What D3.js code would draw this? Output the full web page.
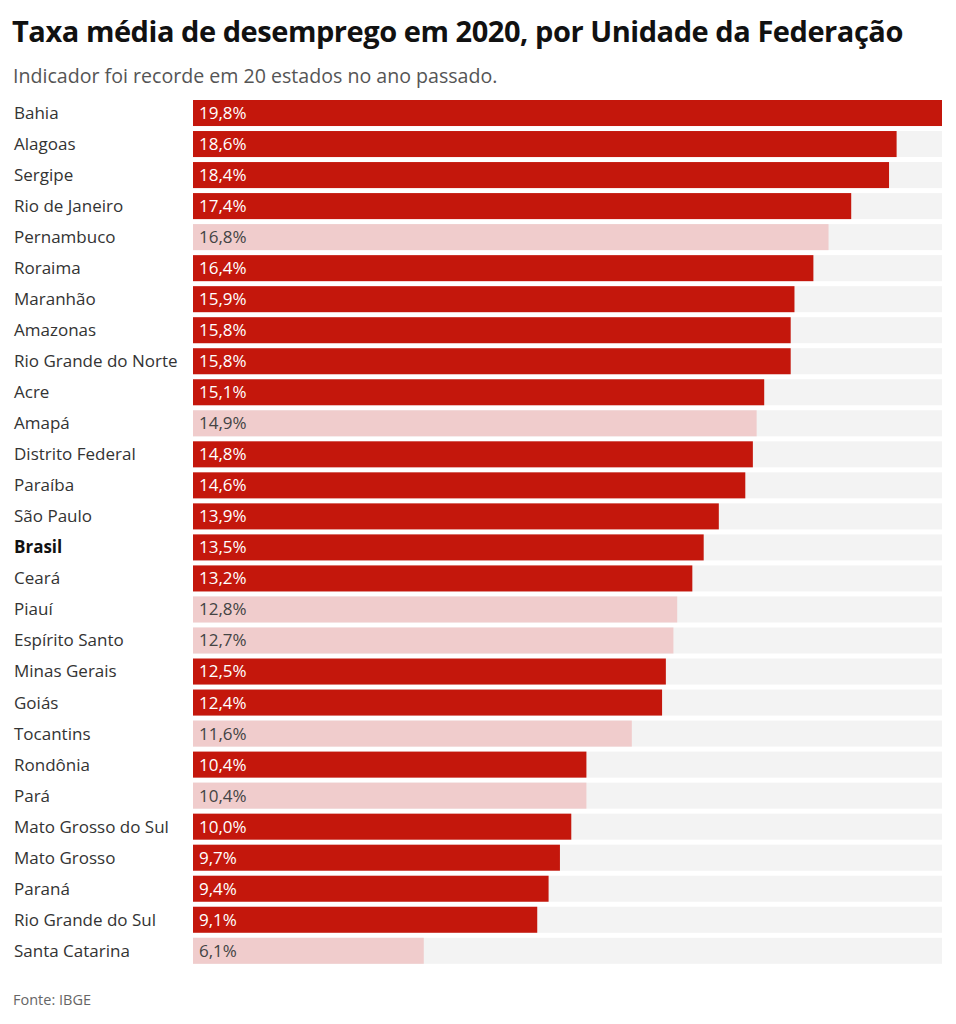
<!DOCTYPE html>
<html>
<head>
<meta charset="utf-8">
<script src="https://cdn.jsdelivr.net/npm/d3@7"></script>
<style>
  body { margin: 0; background: #fff; }
  svg { display: block; font-family: "Open Sans", sans-serif; }
</style>
</head>
<body>
<svg id="chart" width="956" height="1024"></svg>
<script>
// states, ordered as in the chart
const states = ["Bahia", "Alagoas", "Sergipe", "Rio de Janeiro", "Pernambuco", "Roraima",
  "Maranhão", "Amazonas", "Rio Grande do Norte", "Acre", "Amapá", "Distrito Federal",
  "Paraíba", "São Paulo", "Brasil", "Ceará", "Piauí", "Espírito Santo", "Minas Gerais",
  "Goiás", "Tocantins", "Rondônia", "Pará", "Mato Grosso do Sul", "Mato Grosso",
  "Paraná", "Rio Grande do Sul", "Santa Catarina"];
const rates = [19.8, 18.6, 18.4, 17.4, 16.8, 16.4, 15.9, 15.8, 15.8, 15.1, 14.9, 14.8,
  14.6, 13.9, 13.5, 13.2, 12.8, 12.7, 12.5, 12.4, 11.6, 10.4, 10.4, 10.0, 9.7, 9.4, 9.1, 6.1];
// true = record in 2020 (dark red), false = not a record (light)
const records = [true, true, true, true, false, true, true, true, true, true, false, true,
  true, true, true, true, false, false, true, true, false, true, false, true, true,
  true, true, false];

const DARK = "#c4170c";
const LIGHT = "#f0cccc";
const TRACK = "#f3f3f3";

const svg = d3.select("#chart");

svg.append("text")
  .attr("x", 12).attr("y", 42)
  .style("font-size", "29px").style("font-weight", "700")
  .style("letter-spacing", "-0.45px")
  .style("fill", "#111")
  .text("Taxa média de desemprego em 2020, por Unidade da Federação");

svg.append("text")
  .attr("x", 13).attr("y", 83)
  .style("font-size", "19.6px")
  .style("fill", "#555")
  .text("Indicador foi recorde em 20 estados no ano passado.");

const x = d3.scaleLinear().domain([0, d3.max(rates)]).range([193, 942]);
const y = d3.scaleBand().domain(states).range([100, 963.8]).paddingInner(5 / 31).paddingOuter(0);

const rows = svg.append("g").selectAll("g")
  .data(states)
  .join("g");

rows.append("rect")
  .attr("x", x(0))
  .attr("y", d => y(d))
  .attr("width", x(d3.max(rates)) - x(0))
  .attr("height", y.bandwidth())
  .attr("fill", TRACK);

rows.append("rect")
  .attr("x", x(0))
  .attr("y", d => y(d))
  .attr("width", (d, i) => x(rates[i]) - x(0))
  .attr("height", y.bandwidth())
  .attr("fill", (d, i) => records[i] ? DARK : LIGHT);

rows.append("text")
  .attr("x", 14)
  .attr("y", d => y(d) + y.bandwidth() / 2)
  .attr("dy", "0.35em")
  .style("font-size", "17px")
  .style("font-weight", d => d === "Brasil" ? "700" : "400")
  .style("fill", d => d === "Brasil" ? "#111" : "#333")
  .text(d => d);

rows.append("text")
  .attr("x", 199)
  .attr("y", d => y(d) + y.bandwidth() / 2)
  .attr("dy", "0.35em")
  .style("font-size", "17px")
  .style("fill", (d, i) => records[i] ? "#fff" : "#444")
  .text((d, i) => d3.format(".1f")(rates[i]).replace(".", ",") + "%");

svg.append("text")
  .attr("x", 13).attr("y", 1005)
  .style("font-size", "14.5px")
  .style("fill", "#666")
  .text("Fonte: IBGE");
</script>
</body>
</html>
